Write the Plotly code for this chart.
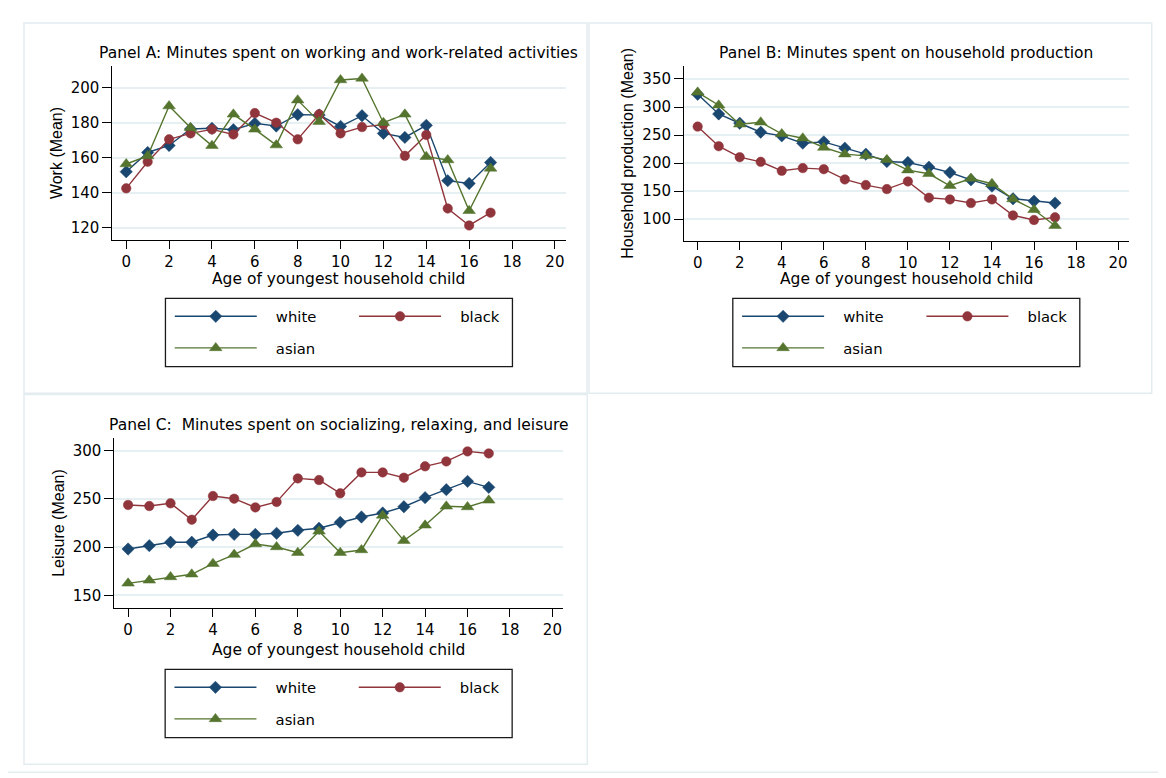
import plotly.graph_objects as go

# ---------------- data ----------------
ages = list(range(18))

work_white = [152, 163, 167, 176.4, 176.8, 176, 179.6, 178.1, 184.6, 184.4, 177.9, 184, 173.9, 171.6, 178.5, 146.9, 145.3, 157.3]
work_black = [142.5, 157.7, 170.5, 173.9, 176.2, 173.3, 185.5, 180, 170.5, 184.8, 173.9, 177.5, 179, 161.1, 173, 131, 121.3, 128.6]
work_asian = [156.4, 161, 189.5, 177.1, 166.9, 184.8, 176.2, 167.2, 192.9, 180.6, 204.4, 205.3, 180, 184.8, 160.6, 158.7, 129.7, 153.9]

hh_white = [322.7, 287.6, 271, 255, 248.5, 235.4, 237.8, 226.5, 215.8, 202.7, 201, 192.6, 183.1, 170, 158.7, 136.2, 132, 128.5]
hh_black = [265, 230, 210.4, 202.1, 186.1, 190.9, 189, 170.7, 160.6, 153.4, 167.1, 138, 135, 128.5, 135, 106.5, 98.2, 103]
hh_asian = [326.2, 303.1, 269.2, 272.8, 252, 244.3, 227.7, 215.8, 212.8, 205.7, 187.3, 180.8, 159.4, 172.4, 163, 135.6, 116.6, 88.1]

lei_white = [198, 201.5, 205, 205, 212.5, 213.2, 213.2, 214.3, 217.4, 219.5, 225.7, 231.2, 235.4, 241.9, 251.3, 259.6, 268.2, 262]
lei_black = [243.7, 242.6, 245.4, 228.4, 253, 250.2, 241.2, 246.8, 271.3, 269.6, 255.8, 277.5, 277.5, 272, 283.8, 288.9, 299.3, 297.2]
lei_asian = [162.4, 165.5, 169, 171.8, 182.8, 192.2, 203.2, 200.1, 194.2, 216.4, 194.2, 197, 232.9, 206.7, 222.6, 242.3, 241.6, 248.5]

group_names = ["white", "black", "asian"]
panel_titles = [
    "Panel A: Minutes spent on working and work-related activities",
    "Panel B: Minutes spent on household production",
    "Panel C:  Minutes spent on socializing, relaxing, and leisure",
]
y_titles = ["Work (Mean)", "Household production (Mean)", "Leisure (Mean)"]
x_title = "Age of youngest household child"
x_ticks = list(range(0, 21, 2))

# ---------------- styling / layout ----------------
# the page body has an 8px margin, so the figure is drawn 8px in from the window corner
OFF = 8
W, H = 1166 - OFF, 778 - OFF
FONT = "DejaVu Sans, Verdana, sans-serif"
FONT_V = "Liberation Sans, Arial, sans-serif"
COLORS = ["#1A476F", "#90353B", "#55752F"]
SYMBOLS = ["diamond", "circle", "triangle-up"]
MSIZES = [9.5, 9.5, 11]
GRID = "#E6EFF1"
FRAME = "#E3ECEF"


def fx(px):
    return (px - OFF) / W


def fy(py):
    return 1 - (py - OFF) / H


# plot-area boxes in window pixels: left, top, right, bottom
panels = [
    dict(box=(112.3, 66, 565.6, 240), yr=(113, 212.4), dt=20,
         frame=(24, 23, 587, 393.3), title_y=53, xt_y=279, leg_top=298.3,
         series=[work_white, work_black, work_asian]),
    dict(box=(684, 66, 1128.6, 240.7), yr=(61.3, 373.2), dt=50,
         frame=(589, 23, 1151.7, 393.3), title_y=53, xt_y=279, leg_top=298.3,
         series=[hh_white, hh_black, hh_asian]),
    dict(box=(114.3, 438.3, 563, 607.7), yr=(137.1, 312.9), dt=50,
         frame=(24, 394.5, 587.3, 764.3), title_y=425, xt_y=649.5, leg_top=669.3,
         series=[lei_white, lei_black, lei_asian]),
]
X_RANGE = (-0.65, 20.5)

fig = go.Figure()
annotations = []
shapes = []
layout_extra = {}

# outer frame
shapes.append(dict(type="rect", xref="paper", yref="paper",
                   x0=fx(5.7), y0=fy(5.7), x1=fx(1160.3), y1=fy(772.3),
                   line=dict(color=FRAME, width=1.5), fillcolor="rgba(0,0,0,0)", layer="below"))

LEG_W, LEG_H = 347, 68.4
PAD = "\u00a0\u00a0\u00a0"
legend_counter = 0

for i, p in enumerate(panels):
    k = "" if i == 0 else str(i + 1)
    xa, ya = "x" + k, "y" + k
    l, t, r, b = p["box"]
    cx = (l + r) / 2

    for j, (name, vals) in enumerate(zip(group_names, p["series"])):
        legend_counter += 1
        lname = "legend" if legend_counter == 1 else f"legend{legend_counter}"
        fig.add_trace(go.Scatter(
            x=ages, y=vals, name=PAD + name, mode="lines+markers",
            xaxis=xa, yaxis=ya, legend=lname,
            line=dict(color=COLORS[j], width=1.4),
            marker=dict(symbol=SYMBOLS[j], size=MSIZES[j], color=COLORS[j],
                        line=dict(color=COLORS[j], width=0.5)),
        ))
        # legend placement (Stata-like 2-column key)
        box_l = cx - LEG_W / 2
        col = 1 if j == 1 else 0
        row = 1 if j == 2 else 0
        line_start = box_l + 9.3 + col * 184.3
        row_y = p["leg_top"] + 18.4 + row * 31.6
        layout_extra[lname] = dict(
            x=fx(line_start - 5), y=fy(row_y), xanchor="left", yanchor="middle",
            bgcolor="rgba(0,0,0,0)", borderwidth=0, itemwidth=82,
            font=dict(family=FONT, size=14.8, color="#000"),
            orientation="v", itemclick=False, itemdoubleclick=False,
        )

    # legend box
    shapes.append(dict(type="rect", xref="paper", yref="paper",
                       x0=fx(cx - LEG_W / 2), x1=fx(cx + LEG_W / 2),
                       y0=fy(p["leg_top"]), y1=fy(p["leg_top"] + LEG_H),
                       line=dict(color="#1a1a1a", width=1.3), fillcolor="rgba(0,0,0,0)"))
    # panel frame
    fl, ft, fr, fb = p["frame"]
    shapes.append(dict(type="rect", xref="paper", yref="paper",
                       x0=fx(fl), x1=fx(fr), y0=fy(ft), y1=fy(fb),
                       line=dict(color=FRAME, width=1.5), fillcolor="rgba(0,0,0,0)", layer="below"))
    # panel title
    annotations.append(dict(text=panel_titles[i], xref="paper", yref="paper",
                            x=fx(cx), y=fy(p["title_y"]), xanchor="center", yanchor="middle",
                            showarrow=False, font=dict(family=FONT, size=15.5, color="#000")))
    # x-axis title
    annotations.append(dict(text=x_title, xref="paper", yref="paper",
                            x=fx(cx), y=fy(p["xt_y"]), xanchor="center", yanchor="middle",
                            showarrow=False, font=dict(family=FONT, size=15.5, color="#000")))

    layout_extra["xaxis" + k] = dict(
        domain=[fx(l), fx(r)], range=list(X_RANGE), anchor=ya,
        tickmode="array", tickvals=x_ticks, ticks="outside", ticklen=8, tickwidth=1,
        tickcolor="#000", showline=True, linecolor="#000", linewidth=1,
        showgrid=False, zeroline=False,
        tickfont=dict(family=FONT, size=15, color="#000"),
    )
    layout_extra["yaxis" + k] = dict(
        domain=[fy(b), fy(t)], range=list(p["yr"]), anchor=xa,
        dtick=p["dt"], tick0=0, ticks="outside", ticklen=9, tickwidth=1,
        tickcolor="#000", showline=True, linecolor="#000", linewidth=1,
        showgrid=True, gridcolor=GRID, gridwidth=1.5, zeroline=False,
        tickfont=dict(family=FONT, size=15, color="#000"),
        title=dict(text=y_titles[i], font=dict(family=FONT_V, size=16, color="#000"), standoff=4),
    )

fig.update_layout(
    width=W, height=H,
    margin=dict(l=0, r=0, t=0, b=0, autoexpand=False),
    paper_bgcolor="white", plot_bgcolor="white",
    showlegend=True,
    annotations=annotations, shapes=shapes,
    font=dict(family=FONT, color="#000"),
    **layout_extra,
)

fig.write_html("out.html")
